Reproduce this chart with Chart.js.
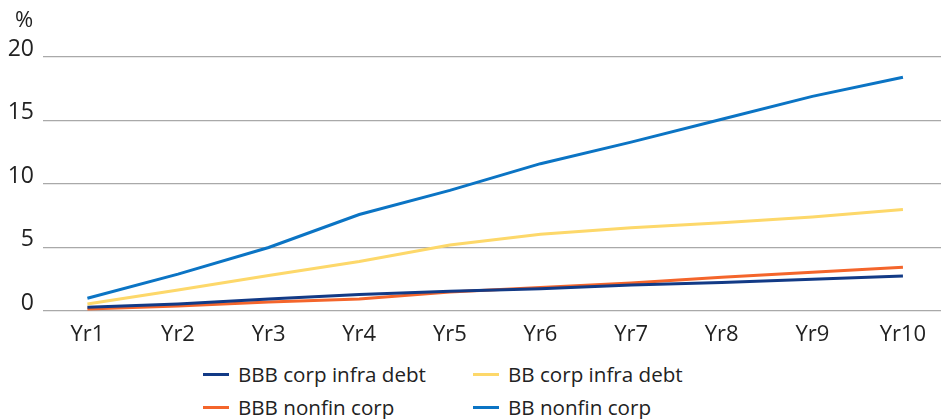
<!DOCTYPE html>
<html>
<head>
<meta charset="utf-8">
<script src="https://cdn.jsdelivr.net/npm/chart.js@4/dist/chart.umd.min.js"></script>
<style>
  html, body { margin: 0; padding: 0; background: #fff; }
  #wrap { position: relative; width: 941px; height: 419px; font-family: "Open Sans", sans-serif; color: #222; }
  #legend { position: absolute; left: 203px; top: 360px; display: grid; grid-template-columns: 270px 250px; row-gap: 5px; }
  .item { display: flex; align-items: center; font-size: 20.6px; line-height: 28px; white-space: nowrap; }
  .swatch { width: 26px; height: 3px; margin-right: 9px; }
</style>
</head>
<body>
<div id="wrap">
  <canvas id="chart" width="941" height="350"></canvas>
  <div id="legend"></div>
</div>
<script>
const years = ["Yr1", "Yr2", "Yr3", "Yr4", "Yr5", "Yr6", "Yr7", "Yr8", "Yr9", "Yr10"]
const bbbInfra = [0.3, 0.55, 0.95, 1.3, 1.55, 1.75, 2.05, 2.25, 2.5, 2.75]
const bbInfra = [0.55, 1.65, 2.8, 3.9, 5.2, 6.05, 6.55, 6.95, 7.4, 8.0]
const bbbNonfin = [0.15, 0.4, 0.7, 0.95, 1.5, 1.85, 2.2, 2.65, 3.05, 3.45]
const bbNonfin = [1.0, 2.9, 5.0, 7.6, 9.5, 11.6, 13.3, 15.1, 16.9, 18.4]

const series = [
    {label: "BBB corp infra debt", data: bbbInfra, color: "#123a86"},
    {label: "BB corp infra debt", data: bbInfra, color: "#fdd86a"},
    {label: "BBB nonfin corp", data: bbbNonfin, color: "#f4652b"},
    {label: "BB nonfin corp", data: bbNonfin, color: "#0b74c4"}
]
// draw order: blue on top like the original
const drawOrder = {"BB nonfin corp": 0, "BB corp infra debt": 1, "BBB corp infra debt": 2, "BBB nonfin corp": 3}

const percentLabel = {
    id: 'percentLabel',
    afterDraw(chart) {
        const ctx = chart.ctx
        ctx.save()
        ctx.font = '22px "Open Sans"'
        ctx.fillStyle = '#222'
        ctx.textAlign = 'left'
        ctx.textBaseline = 'middle'
        ctx.fillText('%', 15, 21)
        ctx.restore()
    }
}

const ctx = document.getElementById('chart').getContext('2d')
new Chart(ctx, {
    type: 'line',
    data: {
        datasets: series.map(s => ({
            label: s.label,
            data: s.data.map((v, i) => ({x: i + 1, y: v})),
            borderColor: s.color,
            backgroundColor: s.color,
            borderWidth: 3,
            pointRadius: 0,
            tension: 0,
            order: drawOrder[s.label]
        }))
    },
    options: {
        responsive: false,
        animation: false,
        layout: {padding: {top: 57, left: 0, right: 0, bottom: 0}},
        plugins: {legend: {display: false}, tooltip: {enabled: false}},
        scales: {
            x: {
                type: 'linear',
                min: 0.51,
                max: 10.42,
                afterBuildTicks: s => { s.ticks = years.map((_, i) => ({value: i + 1})) },
                afterFit: s => { s.height = 39 },
                grid: {display: false},
                border: {display: false},
                ticks: {
                    callback: v => years[v - 1],
                    color: '#222',
                    font: {family: 'Open Sans', size: 22},
                    padding: 3,
                    maxRotation: 0,
                    autoSkip: false
                }
            },
            y: {
                min: 0,
                max: 20,
                afterFit: s => { s.width = 43 },
                grid: {color: '#a9a9a9', lineWidth: 1.3, drawTicks: false},
                border: {display: false},
                ticks: {
                    stepSize: 5,
                    color: '#222',
                    font: {family: 'Open Sans', size: 23},
                    padding: 9,
                    labelOffset: -8
                }
            }
        }
    },
    plugins: [percentLabel]
})

const legend = document.getElementById('legend')
series.forEach(s => {
    const item = document.createElement('div')
    item.className = 'item'
    const sw = document.createElement('span')
    sw.className = 'swatch'
    sw.style.background = s.color
    item.appendChild(sw)
    item.appendChild(document.createTextNode(s.label))
    legend.appendChild(item)
})
</script>
</body>
</html>
